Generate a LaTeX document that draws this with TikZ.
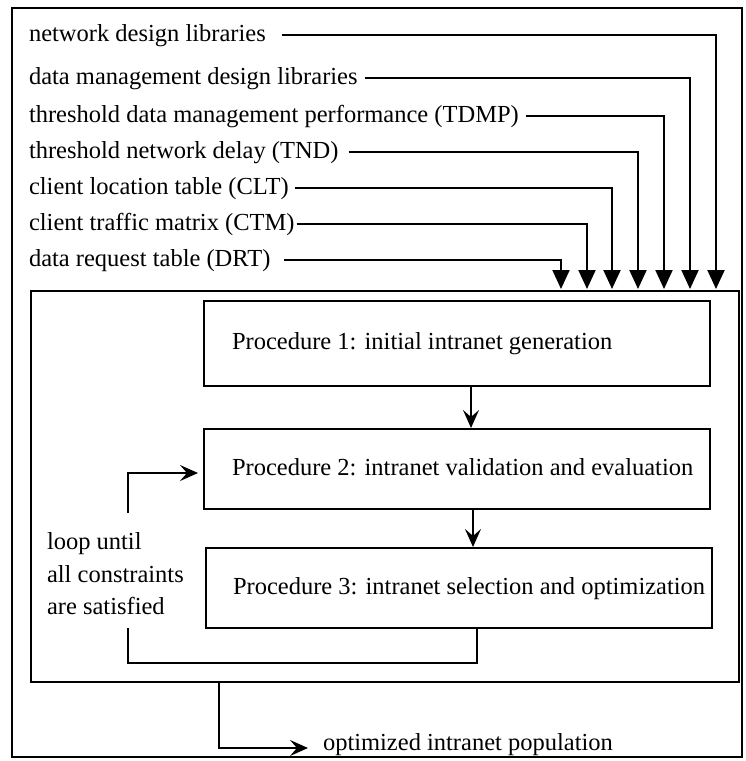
\documentclass[tikz,border=0pt]{standalone}
\usepackage{fontspec}
\setmainfont{Liberation Serif}
\usepackage{tikz}
\usetikzlibrary{arrows.meta, positioning, calc}

\begin{document}
\begin{tikzpicture}[x=1pt, y=-1pt, line width=2pt,
    font=\fontsize{24.5}{32.5}\selectfont,
    intext/.style={inner xsep=0pt, text height=17pt, text depth=5pt, anchor=west},
    procbox/.style={draw, minimum width=506pt, minimum height=80pt, anchor=north west},
    inarrow/.style={-{Triangle[length=19pt, width=17pt]}},
    flowarrow/.style={-{Stealth[length=18pt, width=16pt, inset=7pt]}}]
  \useasboundingbox (0,0) rectangle (745,761);
  % outer frame
  \draw (12,8) rectangle (742,757);
  % main block holding the three procedures
  \node[draw, minimum width=708pt, minimum height=391pt, anchor=north west] (block) at (30,290) {};
  % inputs fed into the block from above
  \foreach \nm/\txt/\yy/\xx/\gap in {
      nd/network design libraries/35/716/15,
      dm/data management design libraries/78/690/6,
      tdmp/threshold data management performance (TDMP)/116/664/6,
      tnd/threshold network delay (TND)/152/638/9,
      clt/client location table (CLT)/188/612/5,
      ctm/client traffic matrix (CTM)/224/587/1,
      drt/data request table (DRT)/260/561/13} {
    \node[intext] (\nm) at (28,\yy) {\txt};
    \coordinate (\nm-in) at (\xx,289);
    \draw[inarrow] ([xshift=\gap pt]\nm.east) -| (\nm-in);
  }
  % procedures
  \node[procbox, minimum height=85pt] (p1) at (203,300) {};
  \node[intext] (p1t) at ([xshift=28pt]p1.west) {Procedure 1: initial intranet generation};
  \node[procbox] (p2) at (203,428) {};
  \node[intext] (p2t) at ([xshift=28pt]p2.west) {Procedure 2: intranet validation and evaluation};
  \node[procbox] (p3) at (205,547) {};
  \node[intext] (p3t) at ([xshift=27pt]p3.west) {Procedure 3: intranet selection and optimization};
  \coordinate (a12) at ([xshift=14pt]p1.south);
  \coordinate (a23) at ([xshift=16pt]p2.south);
  \draw[flowarrow] (a12) -- (a12 |- p2.north);
  \draw[flowarrow] (a23) -- (a23 |- p3.north);
  % feedback loop
  \node[align=left, anchor=west, inner xsep=0pt] (loop) at (46,574) {loop until\\all constraints\\are satisfied};
  \coordinate (lp-top) at (128,513);
  \coordinate (lp-bot) at (128,628);
  \coordinate (lp-r) at (477,663);
  \draw (lp-r |- p3.south) -- (lp-r) -| (lp-bot);
  \draw[flowarrow, shorten >=5pt] (lp-top) |- ([yshift=-4pt]p2.west);
  % result
  \coordinate (out-top) at ([xshift=-166pt]block.south);
  \node[intext, inner xsep=14pt] (opt) at (308,744) {optimized intranet population};
  \draw[flowarrow] (out-top) |- ([yshift=-4pt]opt.west);
\end{tikzpicture}
\end{document}
